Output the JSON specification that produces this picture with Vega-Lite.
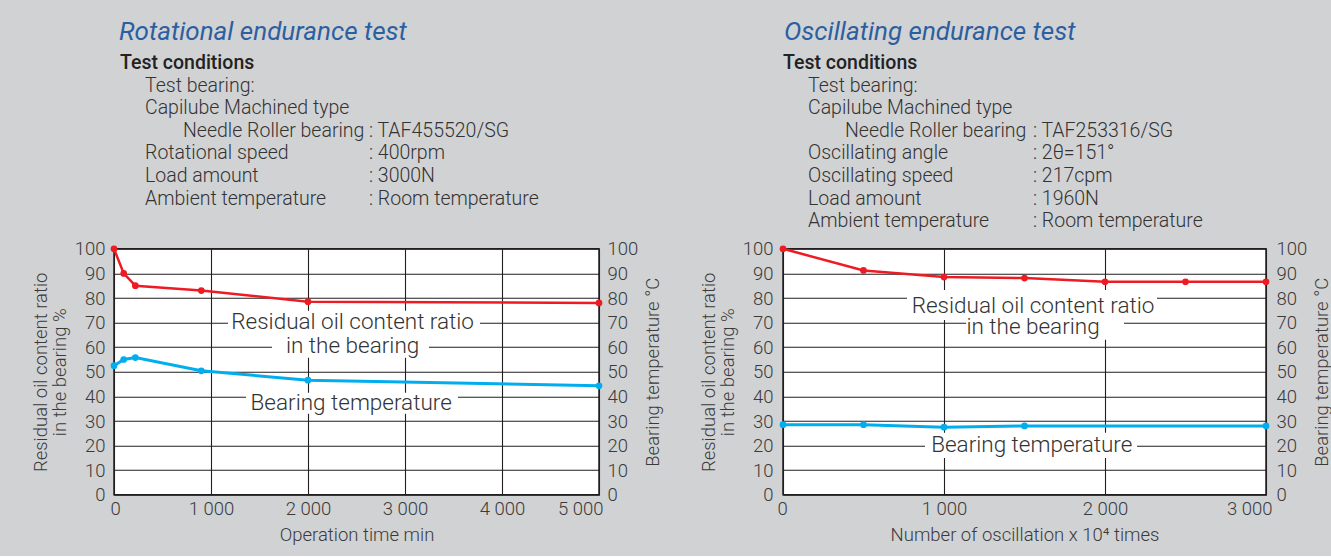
{
  "$schema": "https://vega.github.io/schema/vega-lite/v6.json",
  "background": "#d1d2d4",
  "padding": {"left": 30, "top": 19, "right": 20, "bottom": 11},
  "config": {
    "font": "Roboto",
    "view": {"stroke": null},
    "axis": {
      "grid": true, "gridColor": "#231f20", "gridWidth": 1.1, "gridOpacity": 1,
      "domain": false, "ticks": false,
      "labelFont": "Roboto", "labelFontSize": 18.5, "labelFontWeight": 300, "labelColor": "#3a3a3a",
      "titleFont": "Roboto", "titleFontSize": 18.5, "titleFontWeight": 300, "titleColor": "#3a3a3a",
      "labelOverlap": false, "labelFlush": false
    }
  },
  "datasets": {
    "infoL": [
      {"row": 0, "col": "label", "level": "heading", "text": "Test conditions"},
      {"row": 1, "col": "label", "level": "item", "text": "Test bearing:"},
      {"row": 2, "col": "label", "level": "item", "text": "Capilube Machined type"},
      {"row": 3, "col": "label", "level": "sub", "text": "Needle Roller bearing"},
      {"row": 3, "col": "value", "level": "value", "text": ": TAF455520/SG"},
      {"row": 4, "col": "label", "level": "item", "text": "Rotational speed"},
      {"row": 4, "col": "value", "level": "value", "text": ": 400rpm"},
      {"row": 5, "col": "label", "level": "item", "text": "Load amount"},
      {"row": 5, "col": "value", "level": "value", "text": ": 3000N"},
      {"row": 6, "col": "label", "level": "item", "text": "Ambient temperature"},
      {"row": 6, "col": "value", "level": "value", "text": ": Room temperature"}
    ],
    "infoR": [
      {"row": 0, "col": "label", "level": "heading", "text": "Test conditions"},
      {"row": 1, "col": "label", "level": "item", "text": "Test bearing:"},
      {"row": 2, "col": "label", "level": "item", "text": "Capilube Machined type"},
      {"row": 3, "col": "label", "level": "sub", "text": "Needle Roller bearing"},
      {"row": 3, "col": "value", "level": "value", "text": ": TAF253316/SG"},
      {"row": 4, "col": "label", "level": "item", "text": "Oscillating angle"},
      {"row": 4, "col": "value", "level": "value", "text": ": 2θ=151°"},
      {"row": 5, "col": "label", "level": "item", "text": "Oscillating speed"},
      {"row": 5, "col": "value", "level": "value", "text": ": 217cpm"},
      {"row": 6, "col": "label", "level": "item", "text": "Load amount"},
      {"row": 6, "col": "value", "level": "value", "text": ": 1960N"},
      {"row": 7, "col": "label", "level": "item", "text": "Ambient temperature"},
      {"row": 7, "col": "value", "level": "value", "text": ": Room temperature"}
    ],
    "oilL": [{"x":0,"y":100},{"x":100,"y":90},{"x":220,"y":85},{"x":900,"y":83},{"x":2000,"y":78.5},{"x":5000,"y":78}],
    "tempL": [{"x":0,"y":52.5},{"x":100,"y":55},{"x":220,"y":55.8},{"x":900,"y":50.4},{"x":2000,"y":46.6},{"x":5000,"y":44.3}],
    "oilR": [{"x":0,"y":100},{"x":500,"y":91.2},{"x":1000,"y":88.5},{"x":1500,"y":88.1},{"x":2000,"y":86.6},{"x":2500,"y":86.6},{"x":3000,"y":86.6}],
    "tempR": [{"x":0,"y":28.5},{"x":500,"y":28.5},{"x":1000,"y":27.5},{"x":1500,"y":28},{"x":3000,"y":28}],
    "boxL": [{"x":1175,"x2":3773,"y":74.8,"y2":65.0},{"x":1629,"x2":3247,"y":65.0,"y2":55.7},{"x":1361,"x2":3546,"y":41.5,"y2":32.9}],
    "labL": [{"x":2460,"y":70.1,"text":"Residual oil content ratio"},{"x":2460,"y":60.6,"text":"in the bearing"},{"x":2445,"y":37.5,"text":"Bearing temperature"}],
    "boxR": [{"x":770,"x2":2323,"y":83.3,"y2":71.1},{"x":1137,"x2":2118,"y":72,"y2":63},{"x":882,"x2":2199,"y":25.2,"y2":15}],
    "labR": [{"x":1553,"y":76.8,"text":"Residual oil content ratio"},{"x":1553,"y":68.3,"text":"in the bearing"},{"x":1545,"y":20.3,"text":"Bearing temperature"}]
  },
  "spacing": 34,
  "hconcat": [
    {
      "spacing": 26.8,
      "bounds": "flush",
      "vconcat": [
        {
          "width": 485, "height": 158.2,
          "title": {"text": "Rotational endurance test", "anchor": "start", "frame": "group", "dx": 5, "offset": 8, "fontSize": 26, "fontStyle": "italic", "fontWeight": 400, "font": "Roboto", "color": "#2c5fa0"},
          "data": {"name": "infoL"},
          "encoding": {
            "x": {"field": "col", "type": "nominal", "scale": {"type": "point", "domain": ["label", "value"], "range": [6, 255], "padding": 0}, "axis": null},
            "y": {"field": "row", "type": "quantitative", "scale": {"domain": [0, 7], "reverse": true}, "axis": null},
            "text": {"field": "text"}
          },
          "layer": [
            {"transform": [{"filter": "datum.level == 'heading'"}], "mark": {"type": "text", "align": "left", "baseline": "middle", "fontSize": 19.5, "fontWeight": 500, "color": "#222222"}},
            {"transform": [{"filter": "datum.level == 'item'"}], "mark": {"type": "text", "align": "left", "baseline": "middle", "dx": 25, "fontSize": 19.5, "fontWeight": 300, "color": "#333333"}},
            {"transform": [{"filter": "datum.level == 'sub'"}], "mark": {"type": "text", "align": "left", "baseline": "middle", "dx": 63, "fontSize": 19.5, "fontWeight": 300, "color": "#333333"}},
            {"transform": [{"filter": "datum.level == 'value'"}], "mark": {"type": "text", "align": "left", "baseline": "middle", "fontSize": 19.5, "fontWeight": 300, "color": "#333333"}}
          ]
        },
        {
          "width": 485, "height": 246,
          "view": {"fill": "white", "stroke": "#231f20", "strokeWidth": 1.5},
          "encoding": {
            "x": {"field": "x", "type": "quantitative", "scale": {"domain": [0, 5000], "nice": false},
              "axis": {"title": "Operation time min", "values": [0, 1000, 2000, 3000, 4000, 5000], "labelExpr": "replace(format(datum.value, ','), ',', ' ')", "labelPadding": 5, "titlePadding": 7, "labelFlush": true, "labelFlushOffset": 4}}
          },
          "layer": [
            {
              "encoding": {
                "y": {"field": "y", "type": "quantitative", "scale": {"domain": [0, 100], "nice": false},
                  "axis": {"title": ["Residual oil content ratio", "in the bearing %"], "values": [0,10,20,30,40,50,60,70,80,90,100], "labelPadding": 9, "titlePadding": 5, "titleLineHeight": 19}}
              },
              "layer": [
                {"data": {"name": "boxL"}, "mark": {"type": "rect", "color": "white"}, "encoding": {"x2": {"field": "x2"}, "y2": {"field": "y2"}}},
                {"data": {"name": "labL"}, "mark": {"type": "text", "align": "center", "baseline": "middle", "fontSize": 22.5, "fontWeight": 300, "color": "#333333"}, "encoding": {"text": {"field": "text"}}},
                {"data": {"name": "oilL"}, "mark": {"type": "line", "color": "#ed1c24", "strokeWidth": 2.5, "point": {"filled": true, "size": 45, "color": "#ed1c24"}}, "encoding": {}}
              ]
            },
            {
              "data": {"name": "tempL"},
              "mark": {"type": "line", "color": "#00aeef", "strokeWidth": 3, "point": {"filled": true, "size": 45, "color": "#00aeef"}},
              "encoding": {
                "y": {"field": "y", "type": "quantitative", "scale": {"domain": [0, 100], "nice": false},
                  "axis": {"orient": "right", "grid": false, "title": "Bearing temperature °C", "titleAngle": 270, "titleBaseline": "top", "values": [0,10,20,30,40,50,60,70,80,90,100], "labelPadding": 8, "titlePadding": 6}}
              }
            }
          ],
          "resolve": {"scale": {"y": "independent"}}
        }
      ]
    },
    {
      "spacing": 26.8,
      "bounds": "flush",
      "vconcat": [
        {
          "width": 483, "height": 158.2,
          "title": {"text": "Oscillating endurance test", "anchor": "start", "frame": "group", "dx": 1, "offset": 8, "fontSize": 26, "fontStyle": "italic", "fontWeight": 400, "font": "Roboto", "color": "#2c5fa0"},
          "data": {"name": "infoR"},
          "encoding": {
            "x": {"field": "col", "type": "nominal", "scale": {"type": "point", "domain": ["label", "value"], "range": [0, 250], "padding": 0}, "axis": null},
            "y": {"field": "row", "type": "quantitative", "scale": {"domain": [0, 7], "reverse": true}, "axis": null},
            "text": {"field": "text"}
          },
          "layer": [
            {"transform": [{"filter": "datum.level == 'heading'"}], "mark": {"type": "text", "align": "left", "baseline": "middle", "fontSize": 19.5, "fontWeight": 500, "color": "#222222"}},
            {"transform": [{"filter": "datum.level == 'item'"}], "mark": {"type": "text", "align": "left", "baseline": "middle", "dx": 25, "fontSize": 19.5, "fontWeight": 300, "color": "#333333"}},
            {"transform": [{"filter": "datum.level == 'sub'"}], "mark": {"type": "text", "align": "left", "baseline": "middle", "dx": 62, "fontSize": 19.5, "fontWeight": 300, "color": "#333333"}},
            {"transform": [{"filter": "datum.level == 'value'"}], "mark": {"type": "text", "align": "left", "baseline": "middle", "fontSize": 19.5, "fontWeight": 300, "color": "#333333"}}
          ]
        },
        {
          "width": 483, "height": 246,
          "view": {"fill": "white", "stroke": "#231f20", "strokeWidth": 1.5},
          "encoding": {
            "x": {"field": "x", "type": "quantitative", "scale": {"domain": [0, 3000], "nice": false},
              "axis": {"title": "Number of oscillation x 10⁴ times", "values": [0, 1000, 2000, 3000], "labelExpr": "replace(format(datum.value, ','), ',', ' ')", "labelPadding": 5, "titlePadding": 7, "labelFlush": true, "labelFlushOffset": 6}}
          },
          "layer": [
            {
              "encoding": {
                "y": {"field": "y", "type": "quantitative", "scale": {"domain": [0, 100], "nice": false},
                  "axis": {"title": ["Residual oil content ratio", "in the bearing %"], "values": [0,10,20,30,40,50,60,70,80,90,100], "labelPadding": 10, "titlePadding": 5, "titleLineHeight": 19}}
              },
              "layer": [
                {"data": {"name": "boxR"}, "mark": {"type": "rect", "color": "white"}, "encoding": {"x2": {"field": "x2"}, "y2": {"field": "y2"}}},
                {"data": {"name": "labR"}, "mark": {"type": "text", "align": "center", "baseline": "middle", "fontSize": 22.5, "fontWeight": 300, "color": "#333333"}, "encoding": {"text": {"field": "text"}}},
                {"data": {"name": "oilR"}, "mark": {"type": "line", "color": "#ed1c24", "strokeWidth": 2.5, "point": {"filled": true, "size": 45, "color": "#ed1c24"}}, "encoding": {}}
              ]
            },
            {
              "data": {"name": "tempR"},
              "mark": {"type": "line", "color": "#00aeef", "strokeWidth": 3, "point": {"filled": true, "size": 45, "color": "#00aeef"}},
              "encoding": {
                "y": {"field": "y", "type": "quantitative", "scale": {"domain": [0, 100], "nice": false},
                  "axis": {"orient": "right", "grid": false, "title": "Bearing temperature °C", "titleAngle": 270, "titleBaseline": "top", "values": [0,10,20,30,40,50,60,70,80,90,100], "labelPadding": 10, "titlePadding": 6}}
              }
            }
          ],
          "resolve": {"scale": {"y": "independent"}}
        }
      ]
    }
  ]
}
